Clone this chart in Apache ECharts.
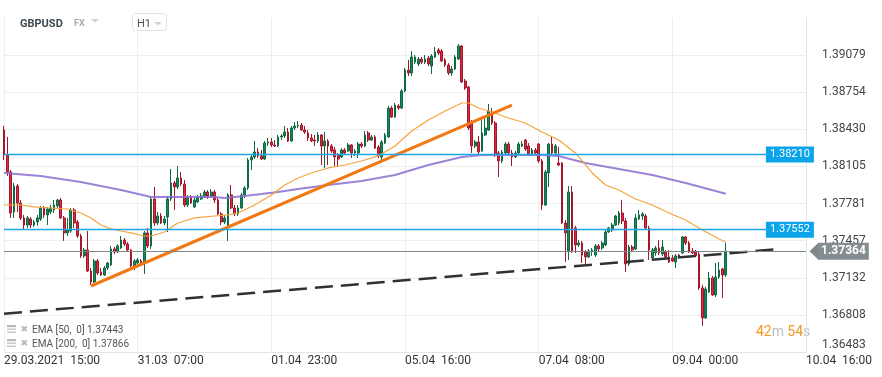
<!DOCTYPE html>
<html>
<head>
<meta charset="utf-8">
<script src="https://cdn.jsdelivr.net/npm/echarts@6/dist/echarts.min.js"></script>
<style>
html, body { margin: 0; padding: 0; background: #fff; }
#main { width: 882px; height: 377px; }
</style>
</head>
<body>
<div id="main"></div>
<script>
// GBPUSD H1 candles: [open, close, low, high]
var candles = [
[1.38424,1.38205,1.38162,1.38459],[1.38205,1.38057,1.38022,1.38363],[1.38057,1.37698,1.37655,1.38074],[1.37707,1.37934,1.37655,1.37961],
[1.37934,1.37786,1.37707,1.37952],[1.37786,1.37655,1.37637,1.37812],[1.37655,1.37593,1.37550,1.37681],[1.37593,1.37655,1.37567,1.37672],
[1.37646,1.37593,1.37567,1.37663],[1.37593,1.37620,1.37576,1.37637],[1.37620,1.37655,1.37585,1.37681],[1.37646,1.37742,1.37628,1.37760],
[1.37742,1.37681,1.37655,1.37760],[1.37681,1.37733,1.37593,1.37751],[1.37707,1.37742,1.37690,1.37768],[1.37725,1.37768,1.37698,1.37812],
[1.37760,1.37812,1.37742,1.37821],[1.37812,1.37655,1.37646,1.37829],[1.37655,1.37524,1.37454,1.37672],[1.37524,1.37550,1.37497,1.37655],
[1.37541,1.37725,1.37524,1.37742],[1.37725,1.37611,1.37567,1.37742],[1.37620,1.37497,1.37480,1.37637],[1.37497,1.37323,1.37305,1.37515],
[1.37323,1.37375,1.37305,1.37392],[1.37375,1.37191,1.37183,1.37541],[1.37191,1.37095,1.37069,1.37218],[1.37095,1.37279,1.37087,1.37296],
[1.37279,1.37174,1.37156,1.37296],[1.37183,1.37156,1.37148,1.37218],[1.37156,1.37218,1.37148,1.37235],[1.37218,1.37261,1.37200,1.37270],
[1.37244,1.37384,1.37235,1.37410],[1.37384,1.37358,1.37340,1.37401],[1.37358,1.37410,1.37349,1.37427],[1.37392,1.37462,1.37384,1.37497],
[1.37462,1.37427,1.37410,1.37480],[1.37427,1.37375,1.37358,1.37445],[1.37375,1.37235,1.37218,1.37384],[1.37235,1.37279,1.37200,1.37296],
[1.37261,1.37288,1.37244,1.37305],[1.37279,1.37253,1.37235,1.37296],[1.37270,1.37524,1.37165,1.37541],[1.37524,1.37410,1.37392,1.37567],
[1.37410,1.37821,1.37384,1.37838],[1.37821,1.37611,1.37585,1.37926],[1.37611,1.37672,1.37593,1.37707],[1.37672,1.37611,1.37602,1.37698],
[1.37611,1.37646,1.37593,1.37672],[1.37663,1.37821,1.37532,1.37847],[1.37821,1.37961,1.37803,1.38083],[1.37961,1.37926,1.37725,1.37978],
[1.37926,1.38004,1.37908,1.38109],[1.38004,1.37952,1.37934,1.38057],[1.37952,1.37768,1.37751,1.37987],[1.37768,1.37838,1.37751,1.37856],
[1.37838,1.37786,1.37777,1.37856],[1.37751,1.37812,1.37742,1.37829],[1.37795,1.37838,1.37786,1.37856],[1.37821,1.37847,1.37812,1.37873],
[1.37847,1.37882,1.37829,1.37899],[1.37882,1.37847,1.37821,1.37899],[1.37847,1.37882,1.37838,1.37908],[1.37882,1.37812,1.37786,1.37899],
[1.37812,1.37690,1.37681,1.37829],[1.37690,1.37620,1.37593,1.37707],[1.37620,1.37655,1.37602,1.37681],[1.37593,1.37856,1.37454,1.37873],
[1.37856,1.37742,1.37733,1.37943],[1.37742,1.37690,1.37672,1.37768],[1.37690,1.37742,1.37672,1.37768],[1.37742,1.37856,1.37733,1.37873],
[1.37856,1.37917,1.37829,1.37934],[1.37917,1.38162,1.37899,1.38179],[1.38162,1.38188,1.38074,1.38205],[1.38188,1.38232,1.38170,1.38328],
[1.38232,1.38197,1.38179,1.38266],[1.38197,1.38170,1.38162,1.38249],[1.38170,1.38310,1.38162,1.38328],[1.38310,1.38319,1.38284,1.38354],
[1.38319,1.38293,1.38275,1.38354],[1.38293,1.38284,1.38275,1.38336],[1.38284,1.38363,1.38275,1.38380],[1.38363,1.38371,1.38336,1.38389],
[1.38371,1.38406,1.38354,1.38459],[1.38406,1.38328,1.38319,1.38441],[1.38328,1.38441,1.38319,1.38459],[1.38441,1.38459,1.38424,1.38494],
[1.38459,1.38467,1.38441,1.38502],[1.38467,1.38424,1.38415,1.38485],[1.38424,1.38406,1.38389,1.38459],[1.38398,1.38354,1.38328,1.38424],
[1.38354,1.38328,1.38319,1.38389],[1.38336,1.38328,1.38284,1.38380],[1.38328,1.38380,1.38310,1.38406],[1.38380,1.38284,1.38118,1.38389],
[1.38284,1.38328,1.38092,1.38406],[1.38328,1.38284,1.38118,1.38345],[1.38284,1.38240,1.38223,1.38301],[1.38249,1.38188,1.38109,1.38275],
[1.38205,1.38170,1.38100,1.38223],[1.38188,1.38249,1.38179,1.38266],[1.38249,1.38223,1.38205,1.38266],[1.38240,1.38293,1.38232,1.38310],
[1.38293,1.38223,1.38179,1.38301],[1.38223,1.38240,1.38197,1.38258],[1.38223,1.38301,1.38179,1.38319],[1.38301,1.38284,1.38266,1.38319],
[1.38284,1.38380,1.38275,1.38415],[1.38398,1.38336,1.38319,1.38415],[1.38336,1.38363,1.38328,1.38380],[1.38363,1.38266,1.38258,1.38380],
[1.38275,1.38197,1.38179,1.38293],[1.38188,1.38319,1.38135,1.38336],[1.38310,1.38380,1.38301,1.38398],[1.38363,1.38616,1.38354,1.38634],
[1.38616,1.38537,1.38529,1.38634],[1.38537,1.38642,1.38529,1.38660],[1.38634,1.38616,1.38599,1.38651],[1.38616,1.38765,1.38607,1.38782],
[1.38765,1.38948,1.38756,1.38966],[1.38948,1.38922,1.38896,1.39036],[1.38922,1.39062,1.38896,1.39114],[1.39018,1.39062,1.39001,1.39079],
[1.39001,1.39044,1.38983,1.39062],[1.39044,1.39018,1.39001,1.39062],[1.39018,1.39044,1.39001,1.39079],[1.39053,1.39001,1.38983,1.39071],
[1.38983,1.39071,1.38913,1.39088],[1.39062,1.39106,1.39053,1.39149],[1.39123,1.39097,1.39079,1.39140],[1.39114,1.39027,1.39018,1.39132],
[1.39036,1.38992,1.38974,1.39053],[1.38992,1.38922,1.38904,1.39009],[1.38922,1.38957,1.38896,1.38983],[1.38957,1.39062,1.38948,1.39079],
[1.39044,1.39158,1.39036,1.39175],[1.39158,1.38843,1.38835,1.39167],[1.38852,1.38791,1.38773,1.38870],[1.38800,1.38441,1.38424,1.38808],
[1.38485,1.38284,1.38223,1.38511],[1.38284,1.38319,1.38266,1.38336],[1.38319,1.38232,1.38214,1.38371],[1.38240,1.38398,1.38232,1.38537],
[1.38380,1.38441,1.38371,1.38529],[1.38424,1.38590,1.38415,1.38651],[1.38581,1.38485,1.38467,1.38616],[1.38485,1.38205,1.38188,1.38502],
[1.38223,1.38153,1.38013,1.38240],[1.38153,1.38232,1.38135,1.38249],[1.38223,1.38301,1.38214,1.38319],[1.38301,1.38223,1.38197,1.38319],
[1.38223,1.38188,1.38109,1.38249],[1.38188,1.38223,1.38179,1.38240],[1.38223,1.38301,1.38205,1.38319],[1.38284,1.38301,1.38275,1.38328],
[1.38336,1.38258,1.38240,1.38345],[1.38284,1.38205,1.38197,1.38310],[1.38205,1.38249,1.38197,1.38266],[1.38249,1.38223,1.38205,1.38266],
[1.38301,1.38153,1.38135,1.38310],[1.38153,1.37768,1.37725,1.38170],[1.37768,1.38057,1.37760,1.38074],[1.38048,1.38301,1.37926,1.38310],
[1.38301,1.38223,1.38205,1.38363],[1.38223,1.38284,1.38197,1.38301],[1.38135,1.38118,1.38109,1.38275],[1.38135,1.37611,1.37602,1.38144],
[1.37611,1.37524,1.37270,1.37637],[1.37366,1.37882,1.37288,1.37934],[1.37882,1.37366,1.37349,1.37934],[1.37567,1.37419,1.37349,1.37585],
[1.37419,1.37436,1.37401,1.37462],[1.37436,1.37331,1.37261,1.37454],[1.37358,1.37314,1.37253,1.37375],[1.37314,1.37366,1.37305,1.37384],
[1.37358,1.37375,1.37323,1.37392],[1.37331,1.37410,1.37314,1.37427],[1.37410,1.37384,1.37366,1.37427],[1.37392,1.37436,1.37375,1.37454],
[1.37419,1.37532,1.37410,1.37550],[1.37532,1.37567,1.37524,1.37576],[1.37550,1.37593,1.37532,1.37611],[1.37593,1.37672,1.37585,1.37681],
[1.37611,1.37698,1.37593,1.37716],[1.37698,1.37628,1.37602,1.37812],[1.37628,1.37253,1.37183,1.37655],[1.37253,1.37401,1.37235,1.37419],
[1.37401,1.37375,1.37358,1.37419],[1.37384,1.37655,1.37375,1.37690],[1.37646,1.37681,1.37637,1.37725],[1.37672,1.37690,1.37637,1.37707],
[1.37672,1.37567,1.37559,1.37690],[1.37567,1.37375,1.37288,1.37585],[1.37305,1.37375,1.37296,1.37392],[1.37349,1.37392,1.37323,1.37410],
[1.37392,1.37349,1.37331,1.37462],[1.37340,1.37401,1.37323,1.37462],[1.37358,1.37314,1.37305,1.37375],[1.37314,1.37270,1.37261,1.37375],
[1.37305,1.37279,1.37270,1.37331],[1.37270,1.37323,1.37218,1.37340],[1.37331,1.37314,1.37305,1.37340],[1.37349,1.37489,1.37340,1.37497],
[1.37489,1.37436,1.37419,1.37497],[1.37436,1.37358,1.37349,1.37454],[1.37366,1.37349,1.37340,1.37392],[1.37358,1.37323,1.37314,1.37375],
[1.37340,1.37043,1.37025,1.37358],[1.37043,1.36781,1.36711,1.37069],[1.36781,1.37034,1.36772,1.37052],[1.37008,1.37130,1.36999,1.37183],
[1.37130,1.36982,1.36973,1.37148],[1.36982,1.37139,1.36964,1.37261],[1.37139,1.37200,1.37122,1.37270],[1.37209,1.37156,1.36955,1.37218],
[1.37156,1.37364,1.37139,1.37436]
];

// EMA readings [bar index, value]
var ema50 = [[0,1.37768],[5,1.37768],[9,1.37751],[14,1.37742],[19,1.37733],[23,1.37698],[26,1.37655],[29,1.37593],[32,1.37559],[35,1.37541],
[38,1.37524],[42,1.37497],[44,1.37497],[48,1.37532],[52,1.37611],[57,1.37655],[63,1.37672],[67,1.37681],[70,1.37698],[75,1.37768],
[80,1.37856],[84,1.37943],[88,1.38004],[92,1.38048],[97,1.38092],[102,1.38118],[107,1.38153],[112,1.38197],[117,1.38284],[122,1.38415],
[127,1.38511],[132,1.38590],[137,1.38660],[139,1.38660],[142,1.38616],[146,1.38581],[151,1.38529],[156,1.38485],[161,1.38406],[166,1.38336],
[171,1.38223],[176,1.38048],[180,1.37943],[184,1.37899],[189,1.37821],[194,1.37768],[199,1.37698],[204,1.37637],[209,1.37550],[214,1.37471],[216,1.37443]];
var ema200 = [[0,1.38048],[11,1.38022],[23,1.37969],[29,1.37934],[35,1.37899],[44,1.37838],[52,1.37838],[63,1.37838],[66,1.37829],[72,1.37847],
[77,1.37864],[82,1.37882],[88,1.37908],[97,1.37943],[107,1.37978],[117,1.38030],[127,1.38118],[132,1.38153],[137,1.38188],[143,1.38205],
[151,1.38205],[161,1.38205],[166,1.38197],[174,1.38135],[184,1.38083],[194,1.38030],[204,1.37961],[216,1.37866]];

// drawn objects
var levelLines = [1.38210, 1.37552];
var lastPrice = 1.37364;
var supportLine = [[0, 1.36818], [231, 1.37380]];
var trendLine = [[26, 1.37060], [152, 1.38642]];

// axes
var yTicks = [1.36483, 1.36808, 1.37132, 1.37457, 1.37781, 1.38105, 1.38430, 1.38754, 1.39079];
var xTickLabels = ['29.03.2021  15:00', '31.03  07:00', '01.04  23:00', '05.04  16:00', '07.04  08:00', '09.04  00:00', '10.04  16:00'];
var barsPerLabel = 40;

var categories = [];
for (var i = 0; i <= barsPerLabel * (xTickLabels.length - 1); i++) categories.push(String(i));
var lastBar = categories.length - 1;

function blueLevel(v) {
    var ls = { color: '#1ea6ea', width: 1.4, type: 'solid', opacity: 1 };
    return [
        {
            coord: [0, v],
            lineStyle: ls,
            label: {
                show: true, position: 'end', distance: 0,
                backgroundColor: '#0ba4ea', color: '#fff', fontSize: 11, fontFamily: 'Roboto',
                padding: [3, 4, 2, 4], formatter: v.toFixed(5)
            }
        },
        { coord: [228, v], lineStyle: ls }
    ];
}

var myChart = echarts.init(document.getElementById('main'));
var option = {
    animation: false,
    textStyle: { fontFamily: 'Roboto' },
    grid: { left: 4, right: 76, top: 18, bottom: 25 },
    xAxis: {
        type: 'category',
        data: categories,
        boundaryGap: false,
        axisLine: { lineStyle: { color: '#e4e4e4' } },
        axisTick: { show: false },
        axisLabel: {
            interval: function (idx) { return idx % barsPerLabel === 0; },
            formatter: function (v, idx) { return xTickLabels[idx / barsPerLabel]; },
            align: 'left', margin: 3, color: '#333', fontSize: 12, fontFamily: 'Roboto'
        },
        splitLine: {
            show: true,
            interval: function (idx) { return idx % barsPerLabel === 0; },
            lineStyle: { color: '#eeeeee' }
        }
    },
    yAxis: {
        type: 'value',
        position: 'right',
        min: yTicks[0],
        max: 1.39403,
        axisLine: { show: true, lineStyle: { color: '#e4e4e4' } },
        axisTick: { show: false, customValues: yTicks },
        axisLabel: {
            customValues: yTicks,
            margin: 16, color: '#444', fontSize: 12, fontFamily: 'Roboto',
            formatter: function (v) {
                var s = v.toFixed(5);
                return Math.abs(v - yTicks[0]) < 1e-7 ? '{low|' + s + '}' : s;
            },
            rich: { low: { padding: [0, 0, 14, 0], color: '#444', fontSize: 12, fontFamily: 'Roboto' } }
        },
        splitLine: { lineStyle: { color: '#eeeeee' } }
    },
    graphic: [
        { type: 'text', style: { x: 20, y: 24, text: 'GBPUSD', font: 'bold 11px Roboto', fill: '#3d4851', verticalAlign: 'middle' } },
        { type: 'text', style: { x: 74, y: 24, text: 'FX', font: 'bold 9px Roboto', fill: '#a3abb1', verticalAlign: 'middle' } },
        { type: 'polygon', shape: { points: [[91, 19], [99, 19], [95, 22.5]] }, style: { fill: '#cdd2d5' } },
        { type: 'rect', shape: { x: 132.5, y: 13.5, width: 34, height: 17, r: 3 }, style: { fill: '#fff', stroke: '#dfe3e6', lineWidth: 1 } },
        { type: 'text', style: { x: 137, y: 24, text: 'H1', font: '11px Roboto', fill: '#4b555d', verticalAlign: 'middle' } },
        { type: 'polygon', shape: { points: [[154, 22], [162, 22], [158, 25.5]] }, style: { fill: '#cdd2d5' } },

        { type: 'rect', shape: { x: 7, y: 325, width: 9, height: 2.2 }, style: { fill: '#b3b9bd' } },
        { type: 'rect', shape: { x: 7, y: 328.5, width: 9, height: 1.5 }, style: { fill: '#c5cacd' } },
        { type: 'rect', shape: { x: 7, y: 331.5, width: 9, height: 1.5 }, style: { fill: '#c5cacd' } },
        { type: 'text', style: { x: 20.5, y: 330, text: '\u2716', font: '9px "DejaVu Sans"', fill: '#b3b9bd', verticalAlign: 'middle' } },
        { type: 'text', style: { x: 32, y: 330.5, text: 'EMA [50,  0] ' + ema50[ema50.length - 1][1].toFixed(5), font: '10px Roboto', fill: '#555', verticalAlign: 'middle' } },
        { type: 'rect', shape: { x: 7, y: 339, width: 9, height: 2.2 }, style: { fill: '#b3b9bd' } },
        { type: 'rect', shape: { x: 7, y: 342.5, width: 9, height: 1.5 }, style: { fill: '#c5cacd' } },
        { type: 'rect', shape: { x: 7, y: 345.5, width: 9, height: 1.5 }, style: { fill: '#c5cacd' } },
        { type: 'text', style: { x: 20.5, y: 344, text: '\u2716', font: '9px "DejaVu Sans"', fill: '#b3b9bd', verticalAlign: 'middle' } },
        { type: 'text', style: { x: 32, y: 344.5, text: 'EMA [200,  0] ' + ema200[ema200.length - 1][1].toFixed(5), font: '10px Roboto', fill: '#555', verticalAlign: 'middle' } },

        {
            type: 'text',
            style: {
                x: 756, y: 332, verticalAlign: 'middle',
                text: '{n|42}{u|m} {n|54}{u|s}',
                rich: {
                    n: { fill: '#f7961f', fontSize: 14, fontFamily: 'Roboto' },
                    u: { fill: '#b9bec2', fontSize: 14, fontFamily: 'Roboto' }
                }
            }
        }
    ],
    series: [
        {
            name: 'GBPUSD',
            type: 'candlestick',
            data: candles,
            barWidth: 2.2,
            clip: false,
            itemStyle: {
                color: '#18875a', borderColor: '#0f6a44',
                color0: '#dc2a43', borderColor0: '#a3172b',
                borderWidth: 1
            },
            markLine: {
                silent: true,
                symbol: 'none',
                animation: false,
                data: [
                    blueLevel(levelLines[0]),
                    blueLevel(levelLines[1]),
                    [
                        {
                            coord: [0, lastPrice], symbol: 'none',
                            lineStyle: { color: '#7f878b', width: 1, type: 'solid' },
                            label: {
                                show: true, position: 'end', distance: 12,
                                backgroundColor: '#858d91', color: '#fff', fontWeight: 'bold',
                                fontSize: 12, fontFamily: 'Roboto', padding: [3, 3, 2, 3],
                                formatter: lastPrice.toFixed(5)
                            }
                        },
                        {
                            coord: [lastBar, lastPrice], symbol: 'triangle',
                            symbolSize: [17, 9], symbolRotate: 90, symbolOffset: [0, 8],
                            itemStyle: { color: '#858d91' }
                        }
                    ]
                ]
            }
        },
        {
            name: 'EMA 200',
            type: 'line',
            data: ema200,
            showSymbol: false,
            lineStyle: { color: '#8a6ed0', width: 2, opacity: 0.85 },
            z: 3
        },
        {
            name: 'EMA 50',
            type: 'line',
            data: ema50,
            showSymbol: false,
            lineStyle: { color: '#f7a43c', width: 1.2 },
            z: 3
        },
        {
            name: 'Support',
            type: 'line',
            data: supportLine,
            showSymbol: false,
            lineStyle: { color: '#2e3235', width: 2.5, type: [18, 8] },
            z: 4
        },
        {
            name: 'Trend',
            type: 'line',
            data: trendLine,
            showSymbol: false,
            lineStyle: { color: '#f27814', width: 3 },
            z: 4
        }
    ]
};
myChart.setOption(option);
</script>
</body>
</html>
